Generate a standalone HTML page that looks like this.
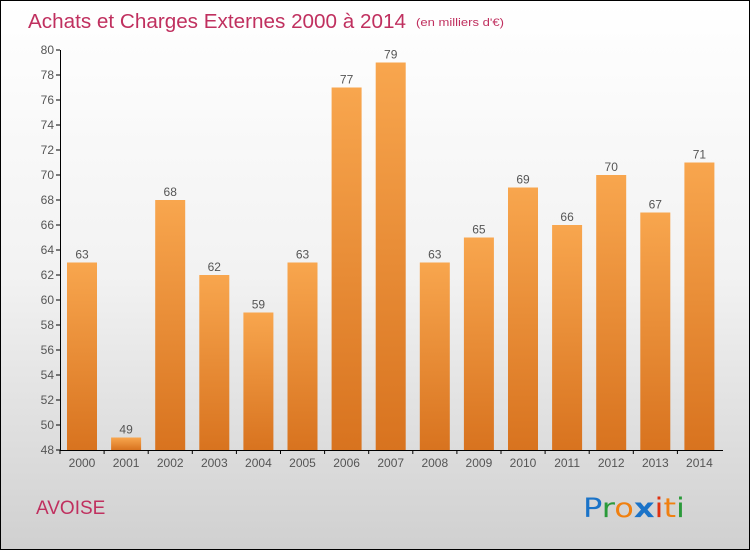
<!DOCTYPE html>
<html><head><meta charset="utf-8"><style>
body{margin:0}
#c{width:748px;height:548px;border:1px solid #000;position:relative;overflow:hidden;background:linear-gradient(#ffffff 0%,#f2f2f2 50%,#d0d0d0 100%);font-family:"Liberation Sans",sans-serif}
</style></head><body>
<div id="c">
<svg width="748" height="548" id="svg">
<defs><linearGradient id="bg" x1="0" y1="0" x2="0" y2="1"><stop offset="0" stop-color="#f8a64e"/><stop offset="1" stop-color="#d8731f"/></linearGradient></defs>
<text x="27" y="27" font-size="20" fill="#c0305f" textLength="378" lengthAdjust="spacingAndGlyphs">Achats et Charges Externes 2000 à 2014</text>
<text x="415" y="25" font-size="11" fill="#c0305f" textLength="88" lengthAdjust="spacingAndGlyphs">(en milliers d'€)</text>
<text x="35" y="513" font-size="19" fill="#c0305f">AVOISE</text>
<g font-size="27" font-family="DejaVu Sans, sans-serif">
<text x="582" y="516" textLength="102" lengthAdjust="spacingAndGlyphs"><tspan fill="#1a73c8">P</tspan><tspan fill="#2a9a3a">r</tspan><tspan fill="#f08010">o</tspan><tspan fill="#1a73c8" font-weight="bold">x</tspan><tspan fill="#e03010">i</tspan><tspan fill="#f08010">t</tspan><tspan fill="#2a9a3a">i</tspan></text></g>
<g id="plot"></g>
</svg></div>
<script>
const years=["2000","2001","2002","2003","2004","2005","2006","2007","2008","2009","2010","2011","2012","2013","2014"];
const values=[63,49,68,62,59,63,77,79,63,65,69,66,70,67,71];
const ticks=[48,50,52,54,56,58,60,62,64,66,68,70,72,74,76,78,80];
const NS="http://www.w3.org/2000/svg";
const g=document.getElementById('plot');
const y=v=>449-(v-48)*12.5;
const x=i=>81+i*44.1;
function mk(t,a){const e=document.createElementNS(NS,t);for(const k in a)e.setAttribute(k,a[k]);g.appendChild(e);return e;}
ticks.forEach(t=>{
const l=mk('line',{x1:55,x2:59,y1:y(t),y2:y(t),stroke:'#000'});


const tx=mk('text',{x:53,y:y(t)+4,'font-size':12,'text-anchor':'end',fill:'#555'});tx.textContent=t;


});
values.forEach((v,i)=>{
const r=mk('rect',{x:x(i)-15,y:y(v),width:30,height:y(48)-y(v),fill:'url(#bg)'});


const vt=mk('text',{x:x(i),y:y(v)-4,'font-size':12,'text-anchor':'middle',fill:'#555'});vt.textContent=v;


const xt=mk('text',{x:x(i),y:466,'font-size':12,'text-anchor':'middle',fill:'#555'});xt.textContent=years[i];


const xk=mk('line',{x1:x(i)-22,x2:x(i)-22,y1:y(48),y2:y(48)+4,stroke:'#000'});


});
const ya=mk('line',{x1:59.5,x2:59.5,y1:y(80),y2:y(48),stroke:'#000'});


const xa=mk('line',{x1:59,x2:722,y1:y(48)+0.5,y2:y(48)+0.5,stroke:'#000'});


</script>
</body></html>
